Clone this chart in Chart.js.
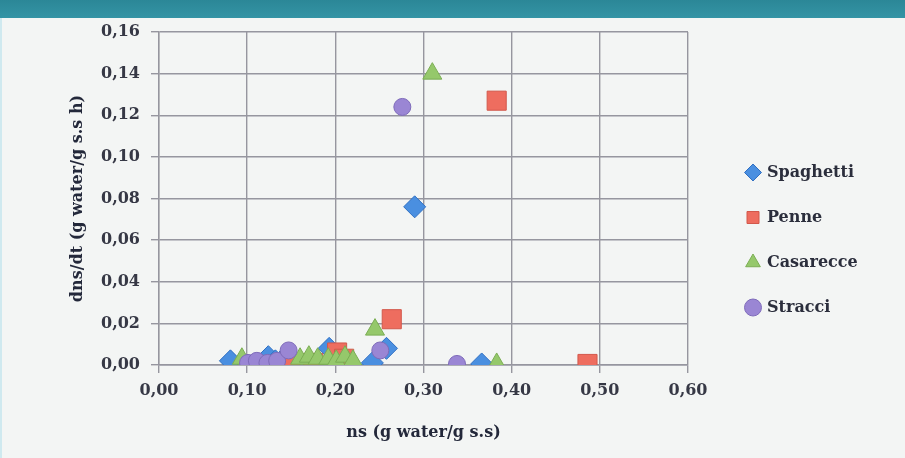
<!DOCTYPE html>
<html>
<head>
<meta charset="utf-8">
<script src="https://cdn.jsdelivr.net/npm/chart.js@4/dist/chart.umd.min.js"></script>
<style>
  html, body { margin: 0; padding: 0; }
  body { width: 905px; height: 458px; background: #f3f5f4; position: relative; overflow: hidden; }
  #banner { position: absolute; left: 0; top: 0; width: 905px; height: 18px; background: linear-gradient(#2b8797, #3494a5); }
  #edge { position: absolute; left: 0; top: 18px; width: 2px; height: 440px; background: #cfe9ef; }
  canvas { position: absolute; left: 0; top: 0; }
</style>
</head>
<body>
<div id="banner"></div>
<div id="edge"></div>
<canvas id="chart" width="905" height="458"></canvas>
<script>
// ns (g water/g s.s) and dns/dt (g water/g s.s h)
const spaghettiNs   = [0.081, 0.124, 0.132, 0.141, 0.193, 0.242, 0.258, 0.290, 0.366];
const spaghettiRate = [0.002, 0.004, 0.002, 0.003, 0.008, 0.001, 0.008, 0.076, 0.0005];

const penneNs   = [0.149, 0.175, 0.202, 0.210, 0.264, 0.383, 0.486];
const penneRate = [0.0005, 0.001, 0.006, 0.003, 0.022, 0.127, 0.0005];

const casarecceNs   = [0.094, 0.160, 0.170, 0.180, 0.192, 0.201, 0.211, 0.220, 0.245, 0.310, 0.383];
const casarecceRate = [0.003, 0.003, 0.004, 0.003, 0.003, 0.002, 0.004, 0.002, 0.017, 0.140, 0.0005];

const stracciNs   = [0.101, 0.111, 0.123, 0.134, 0.147, 0.251, 0.276, 0.338];
const stracciRate = [0.001, 0.002, 0.001, 0.002, 0.007, 0.007, 0.124, 0.0005];

const xTickLabels = ['0,00', '0,10', '0,20', '0,30', '0,40', '0,50', '0,60'];
const yTickLabels = ['0,00', '0,02', '0,04', '0,06', '0,08', '0,10', '0,12', '0,14', '0,16'];

const toPoints = (xs, ys) => xs.map((x, i) => ({ x: x, y: ys[i] }));

const font = { family: 'DejaVu Serif', size: 16, weight: 'bold' };
const gridColor = '#96969f';

// keeps the legend where it sits in the picture, a bit away from the plot
const legendPlace = {
    id: 'legendPlace',
    afterInit(chart) {
        const legend = chart.legend;
        const fit = legend.fit;
        legend.fit = function () {
            fit.call(this);
            this.width = 905 - 688;
        };
    },
    afterLayout(chart) {
        const l = chart.legend;
        l.left += 30; l.right += 30;
        l.top -= 5; l.bottom -= 5;
    }
};

new Chart(document.getElementById('chart'), {
    type: 'scatter',
    data: {
        datasets: [
            {
                label: 'Spaghetti',
                data: toPoints(spaghettiNs, spaghettiRate),
                pointStyle: 'rectRot',
                pointRadius: 11,
                backgroundColor: '#4a8fe0',
                borderColor: '#2f6fc2',
                borderWidth: 1,
                order: 4
            },
            {
                label: 'Penne',
                data: toPoints(penneNs, penneRate),
                pointStyle: 'rect',
                pointRadius: 13.5,
                backgroundColor: '#ee6d5f',
                borderColor: '#d2584b',
                borderWidth: 1,
                order: 3
            },
            {
                label: 'Casarecce',
                data: toPoints(casarecceNs, casarecceRate),
                pointStyle: 'triangle',
                pointRadius: 11,
                backgroundColor: '#95c86b',
                borderColor: '#7aad53',
                borderWidth: 1,
                order: 2
            },
            {
                label: 'Stracci',
                data: toPoints(stracciNs, stracciRate),
                pointStyle: 'circle',
                pointRadius: 8.5,
                backgroundColor: '#9a86d4',
                borderColor: '#7e6bb9',
                borderWidth: 1,
                order: 1
            }
        ]
    },
    options: {
        responsive: false,
        animation: false,
        layout: { padding: { top: 32, right: 0, bottom: 0, left: 0 } },
        plugins: {
            legend: {
                position: 'right',
                labels: {
                    usePointStyle: true,
                    boxWidth: 12,
                    boxHeight: 12,
                    padding: 29,
                    font: font,
                    color: '#2b2e3c',
                    sort: (a, b) => a.datasetIndex - b.datasetIndex
                }
            },
            tooltip: { enabled: false }
        },
        scales: {
            x: {
                type: 'linear',
                min: 0,
                max: 0.6,
                ticks: {
                    stepSize: 0.1,
                    padding: 8,
                    font: font,
                    color: '#363845',
                    callback: (v, i) => xTickLabels[i]
                },
                grid: { color: gridColor, lineWidth: 1.4, tickLength: 8 },
                border: { color: gridColor, width: 1.4 },
                title: {
                    display: true,
                    text: 'ns (g water/g s.s)',
                    font: font,
                    color: '#23283a',
                    padding: { top: 4, bottom: 16 }
                },
                afterFit: (scale) => { scale.height = 93; }
            },
            y: {
                min: 0,
                max: 0.16,
                ticks: {
                    stepSize: 0.02,
                    padding: 11,
                    font: font,
                    color: '#363845',
                    callback: (v, i) => yTickLabels[i]
                },
                grid: { color: gridColor, lineWidth: 1.4, tickLength: 8 },
                border: { color: gridColor, width: 1.4 },
                title: {
                    display: true,
                    text: 'dns/dt (g water/g s.s h)',
                    font: font,
                    color: '#23283a',
                    padding: { top: 68, bottom: 0 }
                },
                afterFit: (scale) => { scale.width = 159; }
            }
        }
    },
    plugins: [legendPlace]
});
</script>
</body>
</html>
